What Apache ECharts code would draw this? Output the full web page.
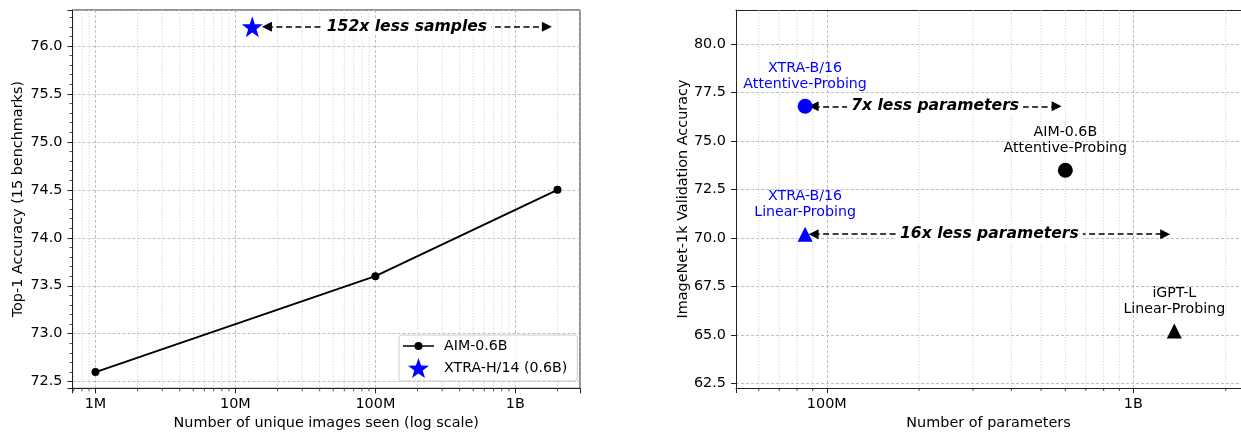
<!DOCTYPE html>
<html><head><meta charset="utf-8">
<script src="https://cdn.jsdelivr.net/npm/echarts@6/dist/echarts.min.js"></script>
<style>html,body{margin:0;padding:0;background:#fff}#c{width:1241px;height:434px}</style>
</head><body><div id="c"></div>
<script>
// ---------- Left panel data ----------
const aimImages = [1e6, 1e8, 2e9];
const aimTop1 = [72.6, 73.6, 74.5];
const xtraHImages = [13.2e6];
const xtraHTop1 = [76.2];
const sampleArrowX = [16.8e6, 1.68e9];
const sampleArrowY = 76.2;
const sampleArrowText = '152x less samples';
const leftTickValues = [1e6, 1e7, 1e8, 1e9];
const leftTickLabels = ['1M', '10M', '100M', '1B'];
const leftMinorValues = [7e5, 8e5, 9e5, 2e6, 3e6, 4e6, 5e6, 6e6, 7e6, 8e6, 9e6,
  2e7, 3e7, 4e7, 5e7, 6e7, 7e7, 8e7, 9e7, 2e8, 3e8, 4e8, 5e8, 6e8, 7e8, 8e8, 9e8, 2e9];

// ---------- Right panel data ----------
const modelNames = ['XTRA-B/16\nAttentive-Probing', 'AIM-0.6B\nAttentive-Probing', 'XTRA-B/16\nLinear-Probing', 'iGPT-L\nLinear-Probing'];
const modelParams = [85e6, 600e6, 85e6, 1.36e9];
const modelAcc = [76.8, 73.5, 70.2, 65.2];
const arrow7xX = [90.6e6, 562e6];
const arrow7xY = 76.8;
const arrow7xText = '7x less parameters';
const arrow16xX = [90.6e6, 1.27e9];
const arrow16xY = 70.2;
const arrow16xText = '16x less parameters';
const rightTickValues = [1e8, 1e9];
const rightTickLabels = ['100M', '1B'];
const rightMinorValues = [6e7, 7e7, 8e7, 9e7, 2e8, 3e8, 4e8, 5e8, 6e8, 7e8, 8e8, 9e8, 2e9];
const rightYTicks = [62.5, 65.0, 67.5, 70.0, 72.5, 75.0, 77.5, 80.0];

// ---------- styling ----------
const FF = 'DejaVu Sans';
const FS = 14.4;
const BLUE = '#0000ff';
const STAR = 'path://M0,-10 L2.35,-3.24 9.51,-3.09 3.8,1.24 5.88,8.09 0,4 -5.88,8.09 -3.8,1.24 -9.51,-3.09 -2.35,-3.24Z';
const LINE_ICON = 'path://M0,0 L0.01,0 L0,0.01 Z M0,20 L0.01,20 L0,19.99 Z M0,9.2 L31,9.2 L31,10.8 L0,10.8 Z M19.5,10 A4,4 0 1,1 11.5,10 A4,4 0 1,1 19.5,10 Z';
const pointColors = [BLUE, '#000', BLUE, '#000'];
const pointSymbols = ['circle', 'circle', 'triangle', 'triangle'];

function tickLabel(values, labels) {
  return function (v) {
    for (let i = 0; i < values.length; i++) {
      if (Math.abs(Math.log10(v) - Math.log10(values[i])) < 1e-6) return labels[i];
    }
    return '';
  };
}
function halfFmt(v) {
  if (Math.abs(v * 2 - Math.round(v * 2)) > 1e-6) return '';
  return v.toFixed(1);
}
const splitLine = { show: true, lineStyle: { color: '#b0b0b0', width: 0.8, type: [3, 2] } };
const axisLine = { show: true, lineStyle: { color: '#222', width: 1 } };
const axisTick = { show: true, inside: false, length: 5, lineStyle: { color: '#222', width: 1 } };
const labelStyle = { fontFamily: FF, fontSize: FS, color: '#000' };

function minorGrid(xi, yi, values, yVal) {
  return {
    type: 'custom', xAxisIndex: xi, yAxisIndex: yi, silent: true, clip: false, z: 1,
    data: values.map(v => [v, yVal]),
    renderItem: function (params, api) {
      const x = api.coord([api.value(0), api.value(1)])[0];
      const cs = params.coordSys;
      const b = cs.y + cs.height;
      return { type: 'group', children: [
        { type: 'line', shape: { x1: x, y1: cs.y, x2: x, y2: b }, style: { stroke: '#d2d2d2', lineWidth: 0.8, lineDash: [1.5, 1.5] } },
        { type: 'line', shape: { x1: x, y1: b, x2: x, y2: b + 3 }, style: { stroke: '#222', lineWidth: 0.8 } }
      ] };
    }
  };
}
const arrowLabel = { show: true, position: 'middle', verticalAlign: 'middle', distance: 0, fontFamily: FF, fontSize: 15.6,
  fontWeight: 'bold', fontStyle: 'italic', color: '#000', backgroundColor: '#fff', padding: [0, 4] };
function arrowMark(lines) {
  return {
    silent: true, symbol: ['triangle', 'triangle'], symbolSize: 10,
    lineStyle: { color: '#000', width: 1.5, type: [6, 3.5] },
    label: arrowLabel,
    data: lines.map(l => [{ coord: [l.xs[0], l.y], label: { formatter: l.text } }, { coord: [l.xs[1], l.y] }])
  };
}

const rightXMin = Math.pow(10, 7.704), rightXMax = Math.pow(10, 9.351);
const option = {
  animation: false,
  backgroundColor: '#fff',
  grid: [
    { left: 72.5, right: 661, top: 10, bottom: 45.7, outerBoundsMode: 'none', containLabel: false,
      show: true, borderColor: '#222', borderWidth: 1 },
    { left: 736, right: 0, top: 10, bottom: 46, outerBoundsMode: 'none', containLabel: false, show: false }
  ],
  legend: {
    data: [{ name: 'AIM-0.6B', icon: LINE_ICON }, { name: 'XTRA-H/14 (0.6B)', icon: STAR }],
    orient: 'vertical', left: 399, top: 335,
    itemWidth: 31, itemHeight: 20, itemGap: 2, padding: [1, 10, 3, 4],
    borderColor: '#cccccc', borderWidth: 1, borderRadius: 3, backgroundColor: 'rgba(255,255,255,0.85)',
    textStyle: { fontFamily: FF, fontSize: 14.2, color: '#000', padding: [0, 0, 0, 5] }
  },
  xAxis: [
    { type: 'log', logBase: 10, gridIndex: 0, min: Math.pow(10, 5.836), max: Math.pow(10, 9.462),
      name: 'Number of unique images seen (log scale)', nameLocation: 'middle', nameGap: 28,
      nameTextStyle: labelStyle, axisLine: axisLine, axisTick: axisTick, splitLine: splitLine,
      axisLabel: Object.assign({ margin: 9, formatter: tickLabel(leftTickValues, leftTickLabels) }, labelStyle) },
    { type: 'log', logBase: 10, gridIndex: 1, min: rightXMin, max: rightXMax,
      name: 'Number of parameters', nameLocation: 'middle', nameGap: 28,
      nameTextStyle: labelStyle, axisLine: axisLine, axisTick: axisTick, splitLine: splitLine,
      axisLabel: Object.assign({ margin: 9, formatter: tickLabel(rightTickValues, rightTickLabels) }, labelStyle) },
    { type: 'log', logBase: 10, gridIndex: 1, min: rightXMin, max: rightXMax, position: 'top',
      axisLine: axisLine, axisTick: { show: false }, axisLabel: { show: false }, splitLine: { show: false } }
  ],
  yAxis: [
    { type: 'value', gridIndex: 0, min: 72.431, max: 76.375, splitNumber: 8,
      name: 'Top-1 Accuracy (15 benchmarks)', nameLocation: 'middle', nameGap: 47,
      nameTextStyle: labelStyle, axisLine: axisLine, axisTick: axisTick, splitLine: splitLine,
      minorTick: { show: true, splitNumber: 5, length: 3, lineStyle: { color: '#222', width: 0.8 } },
      axisLabel: Object.assign({ margin: 10, formatter: halfFmt }, labelStyle) },
    { type: 'value', gridIndex: 1, min: 62.26, max: 81.77,
      name: 'ImageNet-1k Validation Accuracy', nameLocation: 'middle', nameGap: 45.5,
      nameTextStyle: labelStyle, axisLine: axisLine,
      axisTick: Object.assign({ customValues: rightYTicks }, axisTick),
      splitLine: Object.assign({ customValues: rightYTicks }, splitLine),
      axisLabel: Object.assign({ margin: 10, customValues: rightYTicks, formatter: function (v) { return v.toFixed(1); } }, labelStyle) }
  ],
  series: [
    minorGrid(0, 0, leftMinorValues, 74),
    minorGrid(1, 1, rightMinorValues, 70),
    { name: 'AIM-0.6B', type: 'line', xAxisIndex: 0, yAxisIndex: 0, z: 4,
      data: aimImages.map((x, i) => [x, aimTop1[i]]),
      symbol: 'circle', symbolSize: 8, showSymbol: true,
      lineStyle: { color: '#000', width: 2 }, itemStyle: { color: '#000', opacity: 1 } },
    { name: 'XTRA-H/14 (0.6B)', type: 'scatter', xAxisIndex: 0, yAxisIndex: 0, z: 5,
      data: xtraHImages.map((x, i) => [x, xtraHTop1[i]]),
      symbol: STAR, symbolSize: 21, itemStyle: { color: BLUE, opacity: 1 },
      markLine: arrowMark([{ xs: sampleArrowX, y: sampleArrowY, text: sampleArrowText }]) },
    { name: 'models', type: 'scatter', xAxisIndex: 1, yAxisIndex: 1, z: 5,
      data: modelParams.map((p, i) => ({
        value: [p, modelAcc[i]], name: modelNames[i], symbol: pointSymbols[i], symbolSize: 15,
        itemStyle: { color: pointColors[i], opacity: 1 }, label: { color: pointColors[i] }
      })),
      label: { show: true, position: 'top', distance: 6, formatter: '{b}', fontFamily: FF, fontSize: 14.2, lineHeight: 16 } },
    { name: 'arrows', type: 'scatter', xAxisIndex: 1, yAxisIndex: 1, data: [], z: 6,
      markLine: arrowMark([
        { xs: arrow7xX, y: arrow7xY, text: arrow7xText },
        { xs: arrow16xX, y: arrow16xY, text: arrow16xText }
      ]) }
  ]
};
const chart = echarts.init(document.getElementById('c'), null, { renderer: 'canvas' });
chart.setOption(option);
</script></body></html>
